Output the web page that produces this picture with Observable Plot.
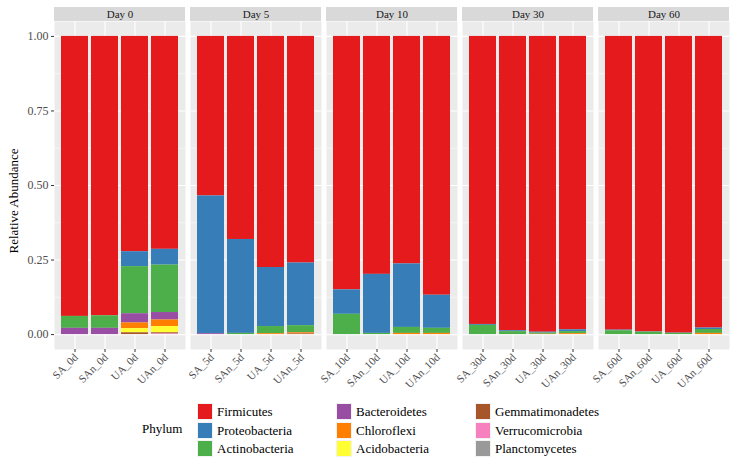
<!DOCTYPE html>
<html>
<head>
<meta charset="utf-8">
<script src="https://cdn.jsdelivr.net/npm/d3@7"></script>
<script src="https://cdn.jsdelivr.net/npm/@observablehq/plot@0.6"></script>
<style>
  html, body { margin: 0; padding: 0; background: white; }
  #wrap { position: relative; width: 739px; height: 464px; font-family: "Liberation Serif", "DejaVu Serif", serif; }
  #ylab { position: absolute; left: 14px; top: 201px; transform: translate(-50%, -50%) rotate(-90deg); font-size: 13px; color: #000; white-space: nowrap; }
  .lg-title { position: absolute; font-size: 13px; color: #000; }
  .lg-key { position: absolute; width: 16px; height: 17px; box-sizing: border-box; border: 1px solid #f2f2f2; }
  .lg-lab { position: absolute; font-size: 13px; color: #000; line-height: 17px; white-space: nowrap; }
</style>
</head>
<body>
<div id="wrap"><div id="chart"></div><div id="ylab">Relative Abundance</div><div id="legend"></div></div>
<script>
// ---- data ----
const days = ["Day 0", "Day 5", "Day 10", "Day 30", "Day 60"];
const samples = ["SA_0d","SAn_0d","UA_0d","UAn_0d","SA_5d","SAn_5d","UA_5d","UAn_5d",
  "SA_10d","SAn_10d","UA_10d","UAn_10d","SA_30d","SAn_30d","UA_30d","UAn_30d",
  "SA_60d","SAn_60d","UA_60d","UAn_60d"];
const sampleDays = ["Day 0","Day 0","Day 0","Day 0","Day 5","Day 5","Day 5","Day 5",
  "Day 10","Day 10","Day 10","Day 10","Day 30","Day 30","Day 30","Day 30",
  "Day 60","Day 60","Day 60","Day 60"];
const slots = ["1","2","3","4","1","2","3","4","1","2","3","4","1","2","3","4","1","2","3","4"];
const phyla = ["Firmicutes","Proteobacteria","Actinobacteria","Bacteroidetes","Chloroflexi",
  "Acidobacteria","Gemmatimonadetes","Verrucomicrobia","Planctomycetes"];
const phylaColors = ["#E41A1C","#377EB8","#4DAF4A","#984EA3","#FF7F00","#FFFF33","#A65628","#F781BF","#999999"];

const firmicutes       = [0.939,0.937,0.722,0.714, 0.535,0.681,0.775,0.760, 0.850,0.798,0.763,0.868, 0.966,0.987,0.992,0.984, 0.985,0.991,0.995,0.978];
const proteobacteria   = [0.000,0.000,0.050,0.053, 0.462,0.315,0.198,0.210, 0.082,0.198,0.213,0.111, 0.003,0.003,0.003,0.006, 0.002,0.001,0.001,0.005];
const actinobacteria   = [0.040,0.042,0.158,0.159, 0.000,0.004,0.024,0.023, 0.068,0.004,0.020,0.017, 0.031,0.010,0.004,0.007, 0.013,0.008,0.004,0.013];
const bacteroidetes    = [0.021,0.021,0.031,0.025, 0.003,0.000,0.000,0.001, 0.000,0.000,0.000,0.000, 0.000,0.000,0.000,0.000, 0.000,0.000,0.000,0.000];
const chloroflexi      = [0.000,0.000,0.019,0.022, 0.000,0.000,0.003,0.004, 0.000,0.000,0.004,0.004, 0.000,0.000,0.001,0.003, 0.000,0.000,0.000,0.004];
const acidobacteria    = [0.000,0.000,0.014,0.021, 0.000,0.000,0.000,0.000, 0.000,0.000,0.000,0.000, 0.000,0.000,0.000,0.000, 0.000,0.000,0.000,0.000];
const gemmatimonadetes = [0.000,0.000,0.006,0.004, 0.000,0.000,0.000,0.002, 0.000,0.000,0.000,0.000, 0.000,0.000,0.000,0.000, 0.000,0.000,0.000,0.000];
const verrucomicrobia  = [0.000,0.000,0.000,0.002, 0.000,0.000,0.000,0.000, 0.000,0.000,0.000,0.000, 0.000,0.000,0.000,0.000, 0.000,0.000,0.000,0.000];
const planctomycetes   = [0.000,0.000,0.000,0.000, 0.000,0.000,0.000,0.000, 0.000,0.000,0.000,0.000, 0.000,0.000,0.000,0.000, 0.000,0.000,0.000,0.000];
const yTicks = [0, 0.25, 0.5, 0.75, 1];
const yMinor = [0.125, 0.375, 0.625, 0.875];

// ---- build table ----
const series = [firmicutes, proteobacteria, actinobacteria, bacteroidetes, chloroflexi,
  acidobacteria, gemmatimonadetes, verrucomicrobia, planctomycetes];
const rows = [];
phyla.forEach((p, j) => series[j].forEach((v, i) =>
  rows.push({phylum: p, value: v, sample: samples[i], day: sampleDays[i], slot: slots[i]})));
const sampleRows = samples.map((s, i) => ({sample: s, day: sampleDays[i], slot: slots[i]}));
const stackOrder = phyla.slice().reverse();

const chart = Plot.plot({
  width: 739, height: 395,
  marginTop: 21, marginBottom: 46, marginLeft: 52, marginRight: 8,
  style: {fontFamily: "'Liberation Serif', 'DejaVu Serif', serif", fontSize: "11px", background: "white"},
  fx: {domain: days, axis: null, paddingInner: 0.037, paddingOuter: 0},
  x: {domain: ["1","2","3","4"], paddingInner: 0.1, paddingOuter: 0.18, axis: null},
  y: {domain: [-0.05, 1.05], axis: null},
  color: {domain: phyla, range: phylaColors},
  marks: [
    Plot.frame({fill: "#EBEBEB", stroke: "none"}),
    Plot.gridY(yMinor, {stroke: "white", strokeOpacity: 1, strokeWidth: 0.5}),
    Plot.gridY(yTicks, {stroke: "white", strokeOpacity: 1, strokeWidth: 1.1}),
    Plot.gridX({stroke: "white", strokeOpacity: 1, strokeWidth: 1.1}),
    Plot.barY(rows, Plot.stackY({order: stackOrder, fx: "day", x: "slot", y: "value", fill: "phylum", z: "phylum"})),
    Plot.barY(days, {fx: d => d, y1: 1.05, y2: 1.097, fill: "#D9D9D9"}),
    Plot.text(days, {fx: d => d, text: d => d, y: 1.0735, fill: "#1A1A1A", fontSize: 11}),
    Plot.axisY(yTicks, {tickFormat: d3.format(".2f"), tickSize: 3, tickPadding: 3, stroke: "#333333", fill: "#4D4D4D", fontSize: 12, label: null}),
    Plot.axisX({tickFormat: () => "", tickSize: 3, stroke: "#333333", label: null}),
    Plot.text(sampleRows, {fx: "day", x: "slot", text: "sample", frameAnchor: "bottom",
      rotate: -45, textAnchor: "end", lineAnchor: "top", dx: -2, dy: 3, fill: "#4D4D4D", fontSize: 11})
  ]
});
document.getElementById("chart").appendChild(chart);

// ---- legend ----
const legend = document.getElementById("legend");
const t = document.createElement("div");
t.className = "lg-title"; t.textContent = "Phylum";
t.style.left = "142px"; t.style.top = "421px";
legend.appendChild(t);
const colX = [197, 336, 475];
const rowY = [403, 421.5, 440];
phyla.forEach((p, i) => {
  const c = Math.floor(i / 3), r = i % 3;
  const k = document.createElement("div");
  k.className = "lg-key"; k.style.background = phylaColors[i];
  k.style.left = colX[c] + "px"; k.style.top = rowY[r] + "px";
  legend.appendChild(k);
  const l = document.createElement("div");
  l.className = "lg-lab"; l.textContent = p;
  l.style.left = (colX[c] + 20) + "px"; l.style.top = rowY[r] + "px";
  legend.appendChild(l);
});
</script>
</body>
</html>
